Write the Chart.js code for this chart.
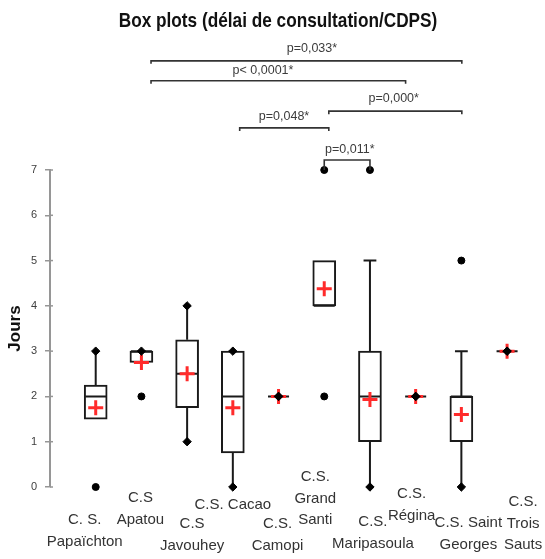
<!DOCTYPE html>
<html>
<head>
<meta charset="utf-8">
<script src="https://cdn.jsdelivr.net/npm/chart.js@4.4.1/dist/chart.umd.min.js"></script>
<style>
html,body{margin:0;padding:0;background:#fff;}
canvas{display:block;}
</style>
</head>
<body>
<canvas id="c" width="545" height="559"></canvas>
<script>
// ---------- DATA ----------
const chartTitle = 'Box plots (délai de consultation/CDPS)';
const yAxisTitle = 'Jours';
const categories = [
  ['C. S.', 'Papaïchton'],
  ['C.S', 'Apatou'],
  ['C.S', 'Javouhey'],
  ['C.S. Cacao'],
  ['C.S.', 'Camopi'],
  ['C.S.', 'Grand', 'Santi'],
  ['C.S.', 'Maripasoula'],
  ['C.S.', 'Régina'],
  ['C.S. Saint', 'Georges'],
  ['C.S.', 'Trois', 'Sauts']
];
const q1Values      = [1.5, 2.75, 1.75, 0.75, 2, 4, 1, 2, 1, 3];
const q3Values      = [2.25, 3, 3.25, 3, 2, 5, 3, 2, 2, 3];
const medianValues  = [2, 3, 2.5, 2, 2, 4, 2, 2, 2, 3];
const whiskerLow    = [1.5, 2.75, 1, 0, 2, 4, 0, 2, 0, 3];
const whiskerHigh   = [3, 3, 4, 3, 2, 5, 5, 2, 3, 3];
const minValues     = [0, 2, 1, 0, 2, 2, 0, 2, 0, 3];
const maxValues     = [3, 3, 4, 3, 2, 7, 7, 2, 5, 3];
const meanValues    = [1.75, 2.75, 2.5, 1.75, 2, 4.38, 1.93, 2, 1.6, 3];
const outlierValues = [[0], [2], [], [], [], [2, 7], [7], [], [5], []];
const yTickLabels   = ['0', '1', '2', '3', '4', '5', '6', '7'];
const pValueTexts   = ['p=0,033*', 'p< 0,0001*', 'p=0,000*', 'p=0,048*', 'p=0,011*'];

// ---------- LAYOUT / STYLE (not data) ----------
const BOX_HALF = 0.23;   // median line half width (x units)
const CAP_HALF = 0.14;   // whisker cap half width (x units)
const brackets = [       // from/to in category units, line & text level in y units
  { from: 2.21, to: 9.01, level: 9.41, textX: 5.73, textY: 9.68, drop: 3 },
  { from: 2.21, to: 7.78, level: 8.97, textX: 4.66, textY: 9.20, drop: 3 },
  { from: 6.10, to: 9.01, level: 8.30, textX: 7.52, textY: 8.57, drop: 3 },
  { from: 4.15, to: 6.10, level: 7.93, textX: 5.12, textY: 8.19, drop: 3 },
  { from: 6.00, to: 7.00, level: 7.22, textX: 6.56, textY: 7.45, dropTo: 7 }
];
const labelDx  = [-11, -1, 5, 0, -1, -9, 3, -4, 7, 16];   // px
const labelTop = [33, 11, 37, 18, 37, -10, 35, 7, 36, 15]; // px below plot bottom
const LABEL_LINE = 21.5;

// ---------- build datasets from data ----------
const xs = categories.map((c, i) => i + 1);
const boxData = [];
const lineData = [];
const diamondData = [];
const outlierData = [];
const meanData = [];
const BREAK = (x) => ({ x: x, y: null });
xs.forEach((x, i) => {
  if (q3Values[i] > q1Values[i]) boxData.push({ x: x, y: [q1Values[i], q3Values[i]] });
  lineData.push({ x: x - BOX_HALF, y: medianValues[i] }, { x: x + BOX_HALF, y: medianValues[i] }, BREAK(x));
  if (whiskerLow[i] < q1Values[i]) lineData.push({ x: x, y: whiskerLow[i] }, { x: x, y: q1Values[i] }, BREAK(x));
  if (whiskerHigh[i] > q3Values[i]) lineData.push({ x: x, y: q3Values[i] }, { x: x, y: whiskerHigh[i] }, BREAK(x));
  if (whiskerLow[i] < q1Values[i] && whiskerLow[i] !== minValues[i])
    lineData.push({ x: x - CAP_HALF, y: whiskerLow[i] }, { x: x + CAP_HALF, y: whiskerLow[i] }, BREAK(x));
  if (whiskerHigh[i] > q3Values[i] && whiskerHigh[i] !== maxValues[i])
    lineData.push({ x: x - CAP_HALF, y: whiskerHigh[i] }, { x: x + CAP_HALF, y: whiskerHigh[i] }, BREAK(x));
  if (minValues[i] === whiskerLow[i]) diamondData.push({ x: x, y: minValues[i] });
  if (maxValues[i] === whiskerHigh[i]) diamondData.push({ x: x, y: maxValues[i] });
  outlierValues[i].forEach(v => outlierData.push({ x: x, y: v }));
  meanData.push({ x: x, y: meanValues[i] });
});

const annotPlugin = {
  id: 'annot',
  afterDraw(chart) {
    const { ctx, chartArea } = chart;
    const xS = chart.scales.x, yS = chart.scales.y;
    ctx.save();
    // small right-hand part of the y ticks
    ctx.strokeStyle = '#969696';
    ctx.lineWidth = 1.5;
    yS.ticks.forEach(t => {
      const py = yS.getPixelForValue(t.value);
      ctx.beginPath(); ctx.moveTo(chartArea.left, py); ctx.lineTo(chartArea.left + 3, py); ctx.stroke();
    });
    // title (condensed bold sans)
    ctx.save();
    ctx.fillStyle = '#111';
    ctx.font = 'bold 21px "Liberation Sans", Arial, sans-serif';
    ctx.textAlign = 'center';
    ctx.textBaseline = 'alphabetic';
    ctx.translate(278, 27);
    ctx.scale(0.82, 1);
    ctx.fillText(chartTitle, 0, 0);
    ctx.restore();
    // brackets
    ctx.strokeStyle = '#333';
    ctx.lineWidth = 1.6;
    ctx.font = '12.5px "Liberation Sans"';
    ctx.textAlign = 'center';
    ctx.textBaseline = 'middle';
    ctx.fillStyle = '#3c3c3c';
    brackets.forEach((b, k) => {
      const x1 = xS.getPixelForValue(b.from), x2 = xS.getPixelForValue(b.to);
      const yl = yS.getPixelForValue(b.level);
      const yd = b.dropTo !== undefined ? yS.getPixelForValue(b.dropTo) : yl + b.drop;
      ctx.beginPath();
      ctx.moveTo(x1, yd); ctx.lineTo(x1, yl); ctx.lineTo(x2, yl); ctx.lineTo(x2, yd);
      ctx.stroke();
      ctx.fillText(pValueTexts[k], xS.getPixelForValue(b.textX), yS.getPixelForValue(b.textY));
    });
    // category labels
    ctx.font = '15px "Liberation Sans"';
    ctx.fillStyle = '#333';
    categories.forEach((lines, i) => {
      const cx = xS.getPixelForValue(i + 1) + labelDx[i];
      lines.forEach((ln, j) => {
        ctx.fillText(ln, cx, chartArea.bottom + labelTop[i] + j * LABEL_LINE);
      });
    });
    ctx.restore();
  }
};

new Chart(document.getElementById('c'), {
  type: 'bar',
  data: {
    datasets: [
      { type: 'line', label: 'outliers', data: outlierData, showLine: false, order: 1,
        pointStyle: 'circle', pointRadius: 3.5, pointBackgroundColor: '#000', pointBorderColor: '#000', pointBorderWidth: 1, clip: false },
      { type: 'line', label: 'min/max', data: diamondData, showLine: false, order: 2,
        pointStyle: 'rectRot', pointRadius: 4.2, pointBackgroundColor: '#000', pointBorderColor: '#000', pointBorderWidth: 1, clip: false },
      { type: 'line', label: 'mean', data: meanData, showLine: false, order: 3,
        pointStyle: 'cross', pointRadius: 7.5, pointBorderColor: '#ff2b2b', pointBorderWidth: 3, clip: false },
      { type: 'line', label: 'lines', data: lineData, order: 4, spanGaps: false,
        borderColor: '#1a1a1a', borderWidth: 2, pointRadius: 0, tension: 0, clip: false },
      { type: 'bar', label: 'boxes', data: boxData, order: 5, barThickness: 23,
        backgroundColor: '#ffffff', borderColor: '#1a1a1a', borderWidth: 2, borderSkipped: false, grouped: false, clip: false }
    ]
  },
  options: {
    responsive: false,
    animation: false,
    events: [],
    layout: { padding: { top: 170, left: 0, right: 10, bottom: 72 } },
    plugins: { legend: { display: false }, tooltip: { enabled: false }, title: { display: false } },
    scales: {
      x: { type: 'linear', min: 0, max: 10.6, display: false, offset: false },
      y: {
        min: 0, max: 7,
        afterFit: (s) => { s.width = 50; },
        ticks: { stepSize: 1, padding: 8, color: '#404040',
                 font: { family: 'Liberation Sans', size: 11 },
                 callback: (v) => yTickLabels[v] },
        grid: { drawOnChartArea: false, drawTicks: true, tickLength: 5, color: '#969696', lineWidth: 1.5 },
        border: { color: '#969696', width: 2 },
        title: { display: true, text: yAxisTitle, color: '#111',
                 font: { family: 'Liberation Sans', size: 17, weight: 'bold' }, padding: { top: 5, bottom: 0 } }
      }
    }
  },
  plugins: [annotPlugin]
});
</script>
</body>
</html>
